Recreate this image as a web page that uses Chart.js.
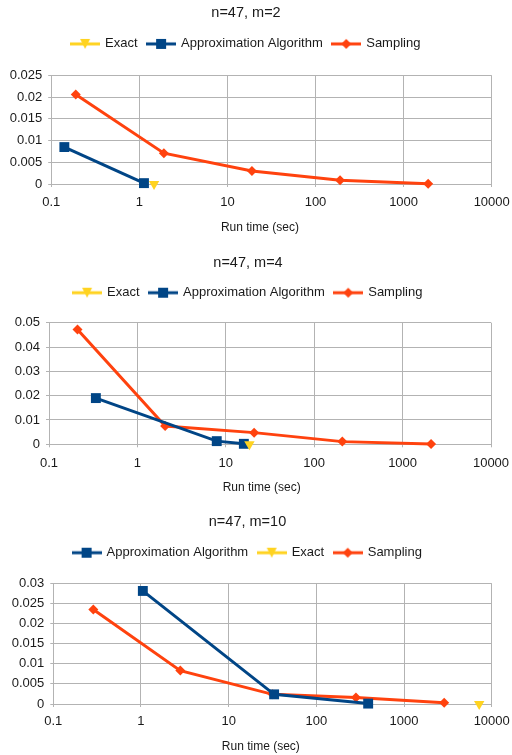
<!DOCTYPE html>
<html>
<head>
<meta charset="utf-8">
<script src="https://cdn.jsdelivr.net/npm/chart.js@4.4.0/dist/chart.umd.min.js"></script>
<style>
  body { margin: 0; background: #fff; width: 512px; height: 755px; overflow: hidden; position: relative; }
  .box { position: absolute; left: 0; width: 512px; }
</style>
</head>
<body>
<div class="box" style="top:0;height:250px"><canvas id="c1"></canvas></div>
<div class="box" style="top:250px;height:250px"><canvas id="c2"></canvas></div>
<div class="box" style="top:500px;height:260px"><canvas id="c3"></canvas></div>
<script>
// shared x axis (log, run time in seconds)
const xTicks = [0.1, 1, 10, 100, 1000, 10000];
const xTickLabels = ["0.1", "1", "10", "100", "1000", "10000"];
const xTitle = "Run time (sec)";

// n=47, m=2
const m2Title = "n=47, m=2";
const m2ExactX = [1.47];
const m2ExactY = [0];
const m2ApproxX = [0.141, 1.13];
const m2ApproxY = [0.0085, 0.0002];
const m2SamplingX = [0.19, 1.9, 19, 190, 1900];
const m2SamplingY = [0.0206, 0.0071, 0.003, 0.00085, 0.00005];
const m2YTicks = [0, 0.005, 0.01, 0.015, 0.02, 0.025];
const m2YLabels = ["0", "0.005", "0.01", "0.015", "0.02", "0.025"];

// n=47, m=4
const m4Title = "n=47, m=4";
const m4ExactX = [18.5];
const m4ExactY = [0];
const m4ApproxX = [0.339, 7.9, 16];
const m4ApproxY = [0.019, 0.0013, 0.0002];
const m4SamplingX = [0.21, 2.06, 20.9, 208, 2100];
const m4SamplingY = [0.0472, 0.0075, 0.0048, 0.0011, 0.0001];
const m4YTicks = [0, 0.01, 0.02, 0.03, 0.04, 0.05];
const m4YLabels = ["0", "0.01", "0.02", "0.03", "0.04", "0.05"];

// n=47, m=10
const m10Title = "n=47, m=10";
const m10ApproxX = [1.05, 33, 390];
const m10ApproxY = [0.0281, 0.0024, 0.0001];
const m10ExactX = [7200];
const m10ExactY = [0];
const m10SamplingX = [0.286, 2.81, 31.7, 283, 2870];
const m10SamplingY = [0.0235, 0.0083, 0.0024, 0.0016, 0.0003];
const m10YTicks = [0, 0.005, 0.01, 0.015, 0.02, 0.025, 0.03];
const m10YLabels = ["0", "0.005", "0.01", "0.015", "0.02", "0.025", "0.03"];

Chart.defaults.font.family = "'Liberation Sans', Arial, sans-serif";
Chart.defaults.color = "#1a1a1a";

const STYLE = {
  "Exact": { color: "#ffd320", pointStyle: "triangle", radius: 6, rotation: 180 },
  "Approximation Algorithm": { color: "#004586", pointStyle: "rect", radius: 7, rotation: 0 },
  "Sampling": { color: "#ff420e", pointStyle: "rectRot", radius: 5, rotation: 0 }
};

// little line+marker glyphs for the legend
function legendIcon(name) {
  const s = STYLE[name];
  const c = document.createElement("canvas");
  c.width = 30; c.height = 14;
  const g = c.getContext("2d");
  g.strokeStyle = s.color; g.fillStyle = s.color; g.lineWidth = 3;
  g.beginPath(); g.moveTo(0, 7); g.lineTo(30, 7); g.stroke();
  g.beginPath();
  if (s.pointStyle === "rect") g.rect(10, 2, 10, 10);
  else if (s.pointStyle === "rectRot") { g.moveTo(15, 2); g.lineTo(20, 7); g.lineTo(15, 12); g.lineTo(10, 7); g.closePath(); }
  else { g.moveTo(10, 2); g.lineTo(20, 2); g.lineTo(15, 12); g.closePath(); }
  g.fill();
  return c;
}
const icons = {};
Object.keys(STYLE).forEach(k => icons[k] = legendIcon(k));

function series(label, xs, ys) {
  const s = STYLE[label];
  return {
    label,
    data: xs.map((x, i) => ({ x, y: ys[i] })),
    showLine: true,
    clip: false,
    borderColor: s.color,
    backgroundColor: s.color,
    borderWidth: 3,
    pointStyle: s.pointStyle,
    pointRadius: s.radius,
    pointHoverRadius: s.radius,
    pointRotation: s.rotation,
    pointBorderWidth: 0,
    tension: 0
  };
}

const legendGap = {
  id: "legendGap",
  beforeInit(chart, args, opts) {
    const fit = chart.legend.fit;
    chart.legend.fit = function () { fit.call(this); this.height += opts.extra; };
  }
};

function makeChart(id, title, datasets, yMax, yTicks, yLabels, lay) {
  new Chart(document.getElementById(id), {
    type: "scatter",
    data: { datasets },
    plugins: [legendGap],
    options: {
      responsive: true,
      maintainAspectRatio: false,
      animation: false,
      layout: { padding: { left: lay.left, right: lay.right, top: 0, bottom: 0 } },
      plugins: {
        legendGap: { extra: lay.gap },
        tooltip: { enabled: false },
        title: {
          display: true, text: title,
          font: { size: 14.5, weight: "normal" },
          padding: { top: lay.tTop, bottom: lay.tBottom }
        },
        legend: {
          labels: {
            usePointStyle: true,
            pointStyleWidth: 27,
            padding: 10,
            font: { size: 13 },
            generateLabels(chart) {
              return Chart.defaults.plugins.legend.labels.generateLabels(chart).map(it => {
                it.pointStyle = icons[it.text];
                it.rotation = 0;
                return it;
              });
            }
          }
        }
      },
      scales: {
        x: {
          type: "logarithmic",
          min: 0.1, max: 10000,
          afterBuildTicks(scale) { scale.ticks = xTicks.map(v => ({ value: v })); },
          afterFit(scale) {
            scale.height = lay.xHeight;
            scale.paddingLeft = 0;
            scale.paddingRight = 0;
            if (!scale._titleShifted) {
              // axis title sits a bit left of the plot centre in the original
              const draw = scale.drawTitle;
              scale.drawTitle = function () {
                const l = this.left;
                this.left -= 2 * lay.xTitleShift;
                draw.call(this);
                this.left = l;
              };
              scale._titleShifted = true;
            }
          },
          ticks: {
            autoSkip: false, maxRotation: 0, padding: lay.xPad,
            font: { size: 13 },
            callback(v, i) { return xTickLabels[i]; }
          },
          grid: { color: "#b3b3b3", tickLength: 3 },
          border: { color: "#b3b3b3" },
          title: { display: true, text: xTitle, font: { size: 12 }, padding: { top: 2, bottom: lay.xTitleBottom } }
        },
        y: {
          min: 0, max: yMax,
          afterBuildTicks(scale) { scale.ticks = yTicks.map(v => ({ value: v })); },
          afterFit(scale) { scale.width = lay.yWidth; },
          ticks: {
            padding: 6,
            font: { size: 13 },
            callback(v, i) { return yLabels[i]; }
          },
          grid: { color: "#b3b3b3", tickLength: 3 },
          border: { color: "#b3b3b3" }
        }
      }
    }
  });
}

makeChart("c1", m2Title, [
  series("Exact", m2ExactX, m2ExactY),
  series("Approximation Algorithm", m2ApproxX, m2ApproxY),
  series("Sampling", m2SamplingX, m2SamplingY)
], 0.025, m2YTicks, m2YLabels,
  { left: 0.3, right: 20.3, yWidth: 50.9, xHeight: 66, xPad: 7.5, xTitleBottom: 15.3, xTitleShift: 11.5,
    tTop: 4, tBottom: 6, gap: 15 });

makeChart("c2", m4Title, [
  series("Exact", m4ExactX, m4ExactY),
  series("Approximation Algorithm", m4ApproxX, m4ApproxY),
  series("Sampling", m4SamplingX, m4SamplingY)
], 0.05, m4YTicks, m4YLabels,
  { left: 5, right: 21, yWidth: 44, xHeight: 55.7, xPad: 7.9, xTitleBottom: 5.3, xTitleShift: 8.3,
    tTop: 4.6, tBottom: 4.2, gap: 13.5 });

makeChart("c3", m10Title, [
  series("Approximation Algorithm", m10ApproxX, m10ApproxY),
  series("Exact", m10ExactX, m10ExactY),
  series("Sampling", m10SamplingX, m10SamplingY)
], 0.03, m10YTicks, m10YLabels,
  { left: 3.3, right: 20.3, yWidth: 50, xHeight: 56, xPad: 6.2, xTitleBottom: 6.5, xTitleShift: 11.7,
    tTop: 13, tBottom: 5.8, gap: 14.1 });
</script>
</body>
</html>
